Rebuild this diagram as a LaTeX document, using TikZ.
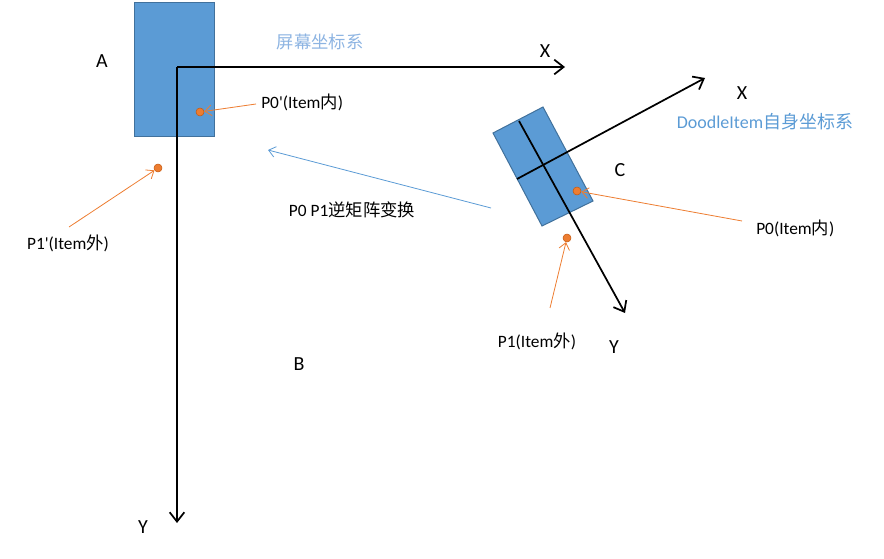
\documentclass[tikz,border=0pt]{standalone}
\usepackage{fontspec}
\setmainfont{Carlito}
\newfontfamily\cjk{Noto Sans CJK SC}
\usetikzlibrary{arrows.meta}
\definecolor{itemblue}{HTML}{5B9BD5}
\definecolor{itemedge}{HTML}{41719C}
\definecolor{ptorange}{HTML}{ED7D31}
\definecolor{ptedge}{HTML}{C55A11}
\definecolor{titleblue}{HTML}{8DB4E2}
\tikzset{
  item/.style={fill=itemblue,draw=itemedge,line width=0.75pt},
  axis/.style={line width=1.3pt,-{Straight Barb[length=7pt,width=11pt]}},
  pt/.style={circle,fill=ptorange,draw=ptedge,line width=0.4pt,inner sep=0pt,minimum size=6pt},
  ptarrow/.style={draw=ptorange,line width=0.6pt,-{Straight Barb[length=5pt,width=8pt]}},
  lbl/.style={inner sep=0pt,font=\fontsize{13}{15}\selectfont},
  big/.style={inner sep=0pt,font=\fontsize{15}{17}\selectfont}
}
\begin{document}
\begin{tikzpicture}[x=0.75pt,y=-0.75pt]
\useasboundingbox (0,0) rectangle (884,559);
% screen item A
\draw[item] (134,3) rectangle (214,137);
% rotated DoodleItem C
\draw[item] (493,133) -- (543,107) -- (593,201) -- (542,226) -- cycle;
% screen axes
\coordinate (o) at (177,67);
\coordinate (sx) at (565,67);
\coordinate (sy) at (177,523);
\draw[axis] (177,67) -- (sx);
\draw[axis] (o) -- (sy);
% item axes
\coordinate (ix0) at (517,179);
\coordinate (ix) at (705,78);
\coordinate (iy0) at (519,121);
\coordinate (iy) at (625,313);
\draw[axis] (ix0) -- (ix);
\draw[axis] (iy0) -- (iy);
% titles and letters
\node[lbl,text=titleblue,font=\cjk\fontsize{13}{15}\selectfont] (title) at (320,42) {屏幕坐标系};
\node[lbl,text=itemblue,font=\fontsize{13.5}{15}\selectfont] (ititle) at (765,122) {DoodleItem{\cjk 自身坐标系}};
\node[big] (A) at (102,61) {A};
\node[big] (B) at (299,364) {B};
\node[big] (C) at (620,170) {C};
\node[big] (xa) at (545,51) {X};
\node[big] (ya) at (143,527) {Y};
\node[big] (xb) at (742,93) {X};
\node[big] (yb) at (614,347) {Y};
% points
\node[pt] (p0s) at (200,112) {};
\node[pt] (p1s) at (158,168) {};
\node[pt] (p0) at (577,191) {};
\node[pt] (p1) at (567,238) {};
% point labels
\node[lbl,anchor=west] (l0s) at (261,102) {P0\textquotesingle(Item{\cjk 内})};
\node[lbl] (l1s) at (68,243) {P1\textquotesingle(Item{\cjk 外})};
\node[lbl,anchor=west] (l0) at (756,228) {P0(Item{\cjk 内})};
\node[lbl] (l1) at (537,341) {P1(Item{\cjk 外})};
\node[lbl] (inv) at (352,210) {P0 P1{\cjk 逆矩阵变换}};
\coordinate (a0s) at (256,104);
\coordinate (a1s) at (69,227);
\coordinate (a0) at (742,221);
\coordinate (a1) at (550,308);
\draw[ptarrow] (a0s) -- (p0s);
\draw[ptarrow] (a1s) -- (p1s);
\draw[ptarrow] (a0) -- (p0);
\draw[ptarrow] (a1) -- (p1);
% inverse transform arrow
\coordinate (ta) at (491,208);
\coordinate (tb) at (268,150);
\draw[draw=itemblue,line width=0.6pt,-{Straight Barb[length=5pt,width=8pt]}] (ta) -- (tb);
\end{tikzpicture}
\end{document}
